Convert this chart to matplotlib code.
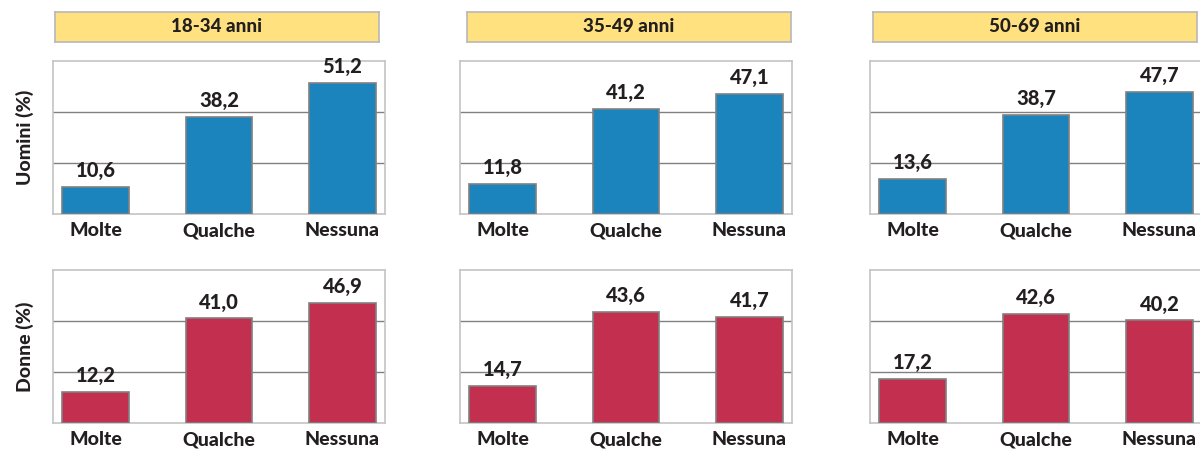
import matplotlib.pyplot as plt
from matplotlib import font_manager

# pick a humanist sans that really has a bold face installed
FAMILY = "DejaVu Sans"
for fam in ["Lato", "Open Sans", "Noto Sans", "Roboto"]:
    path = font_manager.findfont(font_manager.FontProperties(family=fam, weight="bold"),
                                 fallback_to_default=False)
    if fam.replace(" ", "").lower() in path.replace(" ", "").lower() and "bold" in path.lower():
        FAMILY = fam
        break
plt.rcParams["font.family"] = [FAMILY, "DejaVu Sans"]
WEIGHT = 900

categories = ["Molte", "Qualche", "Nessuna"]
age_groups = ["18-34 anni", "35-49 anni", "50-69 anni"]
row_labels = ["Uomini (%)", "Donne (%)"]
men = [[10.6, 38.2, 51.2], [11.8, 41.2, 47.1], [13.6, 38.7, 47.7]]
women = [[12.2, 41.0, 46.9], [14.7, 43.6, 41.7], [17.2, 42.6, 40.2]]

BLUE = "#1b84bd"
RED = "#c32f4e"
INK = "#231f20"
W, H = 1200, 451

fig = plt.figure(figsize=(W / 100, H / 100), dpi=100)


def px_axes(x0, y0, x1, y1):
    # pixel box (top-left origin) -> figure axes
    return fig.add_axes([x0 / W, 1 - y1 / H, (x1 - x0) / W, (y1 - y0) / H])


box_left = [53, 460, 870]
box_width = 332
header_x = [(55, 379), (467, 791), (873, 1197)]
row_y = [(61, 214), (270, 423)]

for col in range(3):
    # yellow header
    hx0, hx1 = header_x[col]
    hax = px_axes(hx0, 12, hx1, 42)
    hax.set_xticks([])
    hax.set_yticks([])
    hax.set_facecolor("#ffe180")
    for s in hax.spines.values():
        s.set_color("#b8b8b8")
        s.set_linewidth(1.2)
    hax.text(0.5, 0.5, age_groups[col], ha="center", va="center",
             fontsize=13.5, fontweight=WEIGHT, color=INK, transform=hax.transAxes)

    for row, (data, color) in enumerate([(men, BLUE), (women, RED)]):
        y0, y1 = row_y[row]
        ax = px_axes(box_left[col], y0, box_left[col] + box_width, y1)
        vals = data[col]
        ax.bar(range(3), vals, width=0.54, color=color, edgecolor="#808080",
               linewidth=1.2, zorder=3)
        for i, v in enumerate(vals):
            ax.annotate(f"{v:.1f}".replace(".", ","), (i, v), xytext=(0, 5),
                        textcoords="offset points", ha="center", va="bottom",
                        fontsize=14.5, fontweight=WEIGHT, color=INK)
        ax.set_xlim(-0.345, 2.345)
        ax.set_ylim(0, 60)
        ax.set_yticks([20, 40])
        ax.set_yticklabels([])
        ax.tick_params(axis="y", length=0)
        ax.grid(axis="y", color="#808080", linewidth=1, zorder=1)
        ax.set_xticks(range(3))
        ax.set_xticklabels(categories, fontsize=14, fontweight=WEIGHT, color=INK)
        ax.tick_params(axis="x", length=0, pad=6)
        for s in ax.spines.values():
            s.set_color("#c4c4c4")
            s.set_linewidth(1.2)
        if col == 2:
            ax.spines["right"].set_visible(False)
        if col == 0:
            ax.set_ylabel(row_labels[row], fontsize=14, fontweight=WEIGHT,
                          color=INK, labelpad=10)

fig.savefig("out.png", dpi=100)
